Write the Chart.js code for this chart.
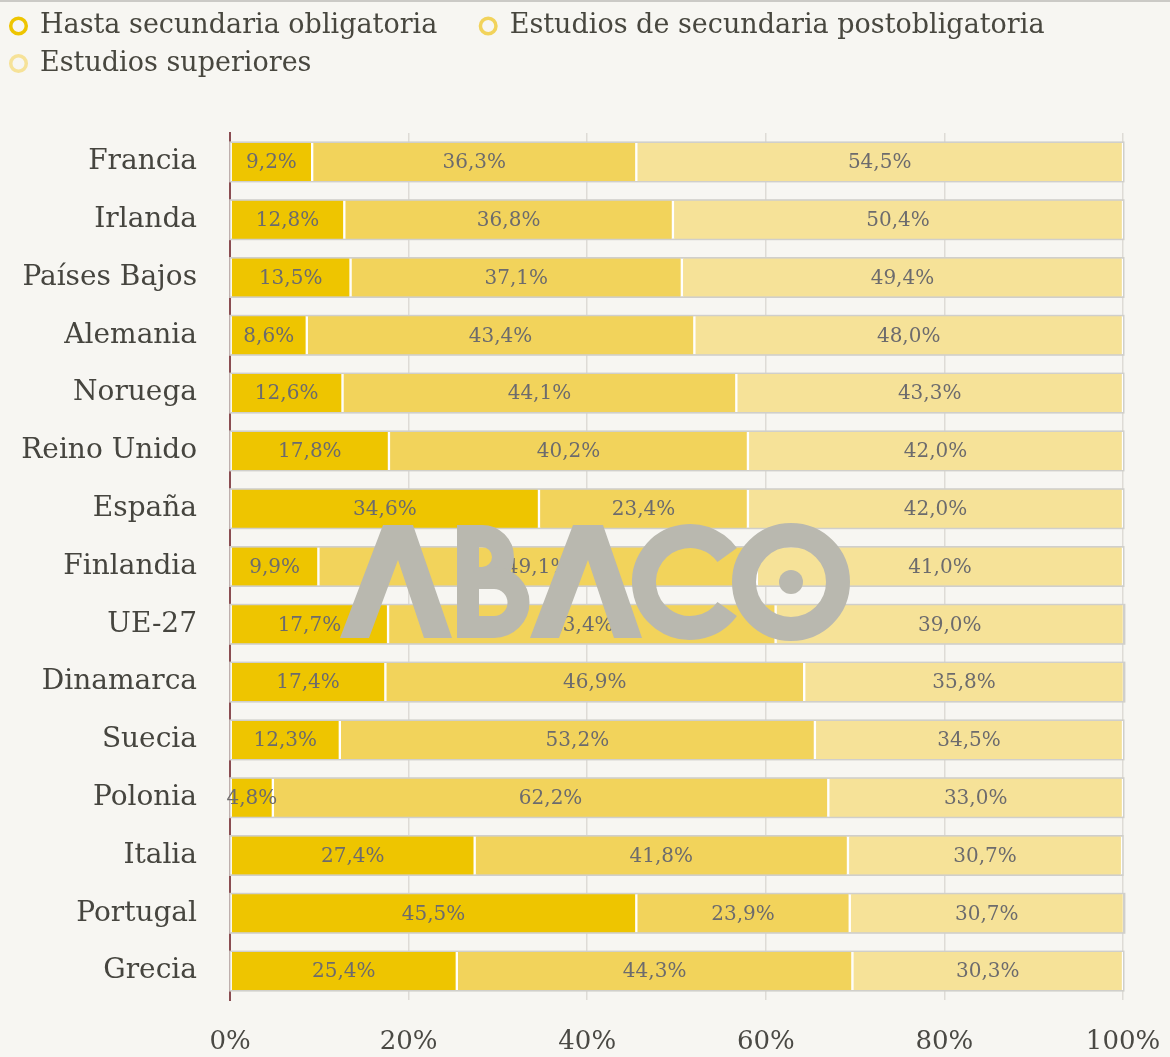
<!DOCTYPE html>
<html>
<head>
<meta charset="utf-8">
<script src="https://cdn.jsdelivr.net/npm/chart.js@4.4.1/dist/chart.umd.min.js"></script>
<style>
  html, body { margin: 0; padding: 0; background: #f7f6f2; }
  #wrap { width: 1170px; height: 1057px; position: relative; }
</style>
</head>
<body>
<div id="wrap"><canvas id="chart" width="1170" height="1057"></canvas></div>
<script>
const paises = ['Francia', 'Irlanda', 'Países Bajos', 'Alemania', 'Noruega', 'Reino Unido', 'España', 'Finlandia', 'UE-27', 'Dinamarca', 'Suecia', 'Polonia', 'Italia', 'Portugal', 'Grecia'];
const hastaSecundaria = [9.2, 12.8, 13.5, 8.6, 12.6, 17.8, 34.6, 9.9, 17.7, 17.4, 12.3, 4.8, 27.4, 45.5, 25.4];
const postobligatoria = [36.3, 36.8, 37.1, 43.4, 44.1, 40.2, 23.4, 49.1, 43.4, 46.9, 53.2, 62.2, 41.8, 23.9, 44.3];
const superiores = [54.5, 50.4, 49.4, 48.0, 43.3, 42.0, 42.0, 41.0, 39.0, 35.8, 34.5, 33.0, 30.7, 30.7, 30.3];
const seriesNames = ['Hasta secundaria obligatoria', 'Estudios de secundaria postobligatoria', 'Estudios superiores'];
const xTicks = [0, 20, 40, 60, 80, 100];

const colores = ['#eec500', '#f2d35b', '#f6e298'];
const serif = '"DejaVu Serif", "Liberation Serif", serif';

// fondo y linea superior
const fondo = {
  id: 'fondo',
  beforeDraw(chart) {
    const ctx = chart.ctx;
    ctx.save();
    ctx.fillStyle = '#f7f6f2';
    ctx.fillRect(0, 0, chart.width, chart.height);
    ctx.fillStyle = '#cbcac6';
    ctx.fillRect(0, 0, chart.width, 2);
    ctx.restore();
  }
};

// borde gris alrededor de cada barra completa
const contorno = {
  id: 'contorno',
  beforeDatasetsDraw(chart) {
    const ctx = chart.ctx;
    const first = chart.getDatasetMeta(0).data;
    const last = chart.getDatasetMeta(chart.data.datasets.length - 1).data;
    ctx.save();
    ctx.fillStyle = '#d0cfcb';
    first.forEach((bar, i) => {
      const a = bar.getProps(['base', 'y', 'height'], true);
      const b = last[i].getProps(['x'], true);
      ctx.fillRect(a.base - 1.5, a.y - a.height / 2 - 1.5, b.x - a.base + 3, a.height + 3);
    });
    ctx.restore();
  }
};

// etiquetas de valor dentro de cada segmento
const etiquetas = {
  id: 'etiquetas',
  afterDatasetsDraw(chart) {
    const ctx = chart.ctx;
    ctx.save();
    ctx.font = '20px ' + serif;
    ctx.fillStyle = '#6c6b6d';
    ctx.textAlign = 'center';
    ctx.textBaseline = 'middle';
    chart.data.datasets.forEach((ds, di) => {
      chart.getDatasetMeta(di).data.forEach((bar, i) => {
        const p = bar.getProps(['x', 'y', 'base'], true);
        const txt = ds.data[i].toFixed(1).replace('.', ',') + '%';
        ctx.fillText(txt, (p.x + p.base) / 2, p.y + 1);
      });
    });
    ctx.restore();
  }
};

// marca de agua ABACO
const marca = {
  id: 'marca',
  afterDraw(chart) {
    const ctx = chart.ctx;
    ctx.save();
    ctx.fillStyle = '#b9b8af';
    ctx.strokeStyle = '#b9b8af';
    const A = (x0) => {
      ctx.beginPath();
      ctx.moveTo(x0, 638);
      ctx.lineTo(x0 + 43, 525);
      ctx.lineTo(x0 + 73, 525);
      ctx.lineTo(x0 + 112, 638);
      ctx.lineTo(x0 + 84, 638);
      ctx.lineTo(x0 + 58, 560);
      ctx.lineTo(x0 + 29, 638);
      ctx.closePath();
      ctx.fill();
    };
    A(340);
    A(530);
    // B
    ctx.lineWidth = 22;
    ctx.beginPath();
    ctx.moveTo(468, 525);
    ctx.lineTo(468, 638);
    ctx.stroke();
    ctx.beginPath();
    ctx.moveTo(460, 536);
    ctx.lineTo(482, 536);
    ctx.arc(482, 557, 21, -Math.PI / 2, Math.PI / 2);
    ctx.lineTo(460, 578);
    ctx.stroke();
    ctx.beginPath();
    ctx.moveTo(460, 578);
    ctx.lineTo(494, 578);
    ctx.arc(494, 602.5, 24.5, -Math.PI / 2, Math.PI / 2);
    ctx.lineTo(460, 627);
    ctx.stroke();
    // C
    ctx.lineWidth = 24;
    ctx.beginPath();
    ctx.arc(690, 582, 46, Math.PI * 0.2, Math.PI * 1.8);
    ctx.stroke();
    // O
    ctx.beginPath();
    ctx.arc(791, 582, 47, 0, Math.PI * 2);
    ctx.stroke();
    ctx.beginPath();
    ctx.arc(791, 582, 12, 0, Math.PI * 2);
    ctx.fill();
    ctx.restore();
  }
};

// espacio extra bajo la leyenda
const leyendaAlta = {
  id: 'leyendaAlta',
  beforeInit(chart) {
    const fit = chart.legend.fit;
    chart.legend.fit = function () {
      fit.bind(chart.legend)();
      this.height += 46;
    };
  }
};

new Chart(document.getElementById('chart'), {
  type: 'bar',
  data: {
    labels: paises,
    datasets: [hastaSecundaria, postobligatoria, superiores].map((d, i) => ({
      label: seriesNames[i],
      data: d,
      backgroundColor: colores[i],
      borderColor: '#ffffff',
      borderWidth: { left: 1.5, right: 1.5, top: 0, bottom: 0 },
      borderSkipped: false,
      barThickness: 38
    }))
  },
  options: {
    indexAxis: 'y',
    responsive: false,
    animation: false,
    layout: { padding: { left: 0, right: 47, top: 2, bottom: 0 } },
    plugins: {
      tooltip: { enabled: false },
      legend: {
        position: 'top',
        align: 'start',
        labels: {
          font: { family: serif, size: 27 },
          color: '#48473f',
          usePointStyle: true,
          boxWidth: 16,
          boxHeight: 11,
          padding: 10.5,
          generateLabels(chart) {
            return chart.data.datasets.map((ds, i) => ({
              // el primer elemento lleva un hueco mayor a su derecha
              text: i === 0 ? ds.label + '\u2003\u2009' : ds.label,
              fillStyle: '#f7f6f2',
              strokeStyle: colores[i],
              lineWidth: 3.5,
              pointStyle: 'circle',
              datasetIndex: i,
              fontColor: '#48473f'
            }));
          }
        }
      }
    },
    scales: {
      x: {
        stacked: true,
        min: 0,
        max: 100,
        afterBuildTicks(s) { s.ticks = xTicks.map(v => ({ value: v })); },
        afterFit(s) {
          s.height = 57;
          s.paddingLeft = 0;
          s.paddingRight = 0;
        },
        grid: { color: '#dedbd6', lineWidth: 1.5, drawTicks: false },
        border: { display: false },
        ticks: {
          padding: 27,
          color: '#4a4944',
          font: { family: serif, size: 26 },
          callback: v => v + '%'
        }
      },
      y: {
        stacked: true,
        afterFit(s) { s.width = 230; },
        grid: { display: false },
        border: { display: true, color: '#8a4d52', width: 2 },
        ticks: {
          padding: 25,
          color: '#46453f',
          font: { family: serif, size: 28 }
        }
      }
    }
  },
  plugins: [fondo, contorno, etiquetas, marca, leyendaAlta]
});
</script>
</body>
</html>
